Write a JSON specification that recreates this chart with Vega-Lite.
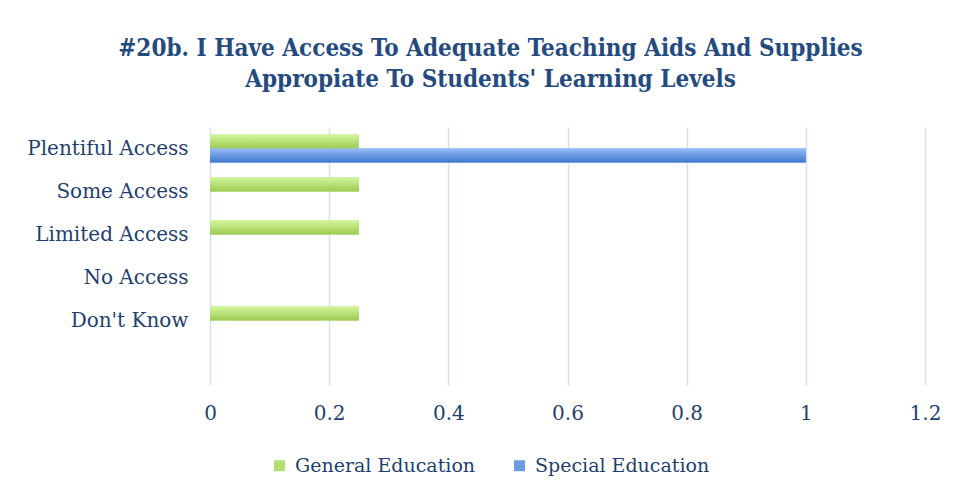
{
  "$schema": "https://vega.github.io/schema/vega-lite/v6.json",
  "width": 715,
  "height": 258,
  "autosize": {"type": "none"},
  "padding": {"left": 210, "top": 127, "right": 33, "bottom": 114},
  "background": "white",
  "title": {
    "text": ["#20b. I Have Access To Adequate Teaching Aids And Supplies", "Appropiate To Students' Learning Levels"],
    "font": "DejaVu Serif Condensed",
    "fontSize": 24,
    "fontWeight": "bold",
    "color": "#254A80",
    "lineHeight": 31,
    "anchor": "middle",
    "dx": -77,
    "offset": 35
  },
  "data": {
    "values": [
      {"category": "Plentiful Access", "series": "General Education", "value": 0.25},
      {"category": "Plentiful Access", "series": "Special Education", "value": 1.0},
      {"category": "Some Access", "series": "General Education", "value": 0.25},
      {"category": "Some Access", "series": "Special Education", "value": 0},
      {"category": "Limited Access", "series": "General Education", "value": 0.25},
      {"category": "Limited Access", "series": "Special Education", "value": 0},
      {"category": "No Access", "series": "General Education", "value": 0},
      {"category": "No Access", "series": "Special Education", "value": 0},
      {"category": "Don't Know", "series": "General Education", "value": 0.25},
      {"category": "Don't Know", "series": "Special Education", "value": 0},
      {"category": " ", "series": "General Education", "value": null},
      {"category": " ", "series": "Special Education", "value": null}
    ]
  },
  "encoding": {
    "y": {
      "field": "category",
      "type": "nominal",
      "sort": ["Plentiful Access", "Some Access", "Limited Access", "No Access", "Don't Know", " "],
      "scale": {"paddingInner": 0.35, "paddingOuter": 0.175},
      "axis": {
        "title": null,
        "domain": false,
        "ticks": false,
        "grid": false,
        "labelFont": "DejaVu Serif",
        "labelFontSize": 20,
        "labelColor": "#1F3F6E",
        "labelPadding": 22
      }
    },
    "yOffset": {
      "field": "series",
      "type": "nominal",
      "sort": ["General Education", "Special Education"]
    },
    "x": {
      "field": "value",
      "type": "quantitative",
      "scale": {"domain": [0, 1.2], "nice": false},
      "axis": {
        "title": null,
        "values": [0, 0.2, 0.4, 0.6, 0.8, 1, 1.2],
        "format": "~g",
        "domain": false,
        "ticks": false,
        "grid": true,
        "gridColor": "#D6E1F0",
        "gridWidth": 1.5,
        "labelFont": "DejaVu Serif",
        "labelFontSize": 20,
        "labelColor": "#1F3F6E",
        "labelPadding": 18,
        "labelFlush": false
      }
    }
  },
  "layer": [
    {
      "mark": {"type": "bar"},
      "encoding": {
        "color": {
          "field": "series",
          "type": "nominal",
          "scale": {"domain": ["General Education", "Special Education"], "range": ["#B4DE72", "#6A9BE3"]},
          "legend": {
            "title": null,
            "orient": "none",
            "direction": "horizontal",
            "legendX": 60,
            "legendY": 329,
            "symbolType": "square",
            "symbolSize": 120,
            "symbolStrokeWidth": 0,
            "labelFont": "DejaVu Serif",
            "labelFontSize": 19,
            "labelColor": "#1F3F6E",
            "labelOffset": 6,
            "labelLimit": 0,
            "columnPadding": 34
          }
        }
      }
    },
    {
      "mark": {"type": "bar"},
      "encoding": {
        "fill": {
          "condition": {
            "test": "datum.series === 'General Education'",
            "value": {"gradient": "linear", "x1": 0, "y1": 0, "x2": 0, "y2": 1, "stops": [{"offset": 0, "color": "#D4F59C"}, {"offset": 1, "color": "#9CCB52"}]}
          },
          "value": {"gradient": "linear", "x1": 0, "y1": 0, "x2": 0, "y2": 1, "stops": [{"offset": 0, "color": "#95BCF7"}, {"offset": 1, "color": "#3F78CD"}]}
        }
      }
    }
  ],
  "config": {"view": {"stroke": null}}
}
